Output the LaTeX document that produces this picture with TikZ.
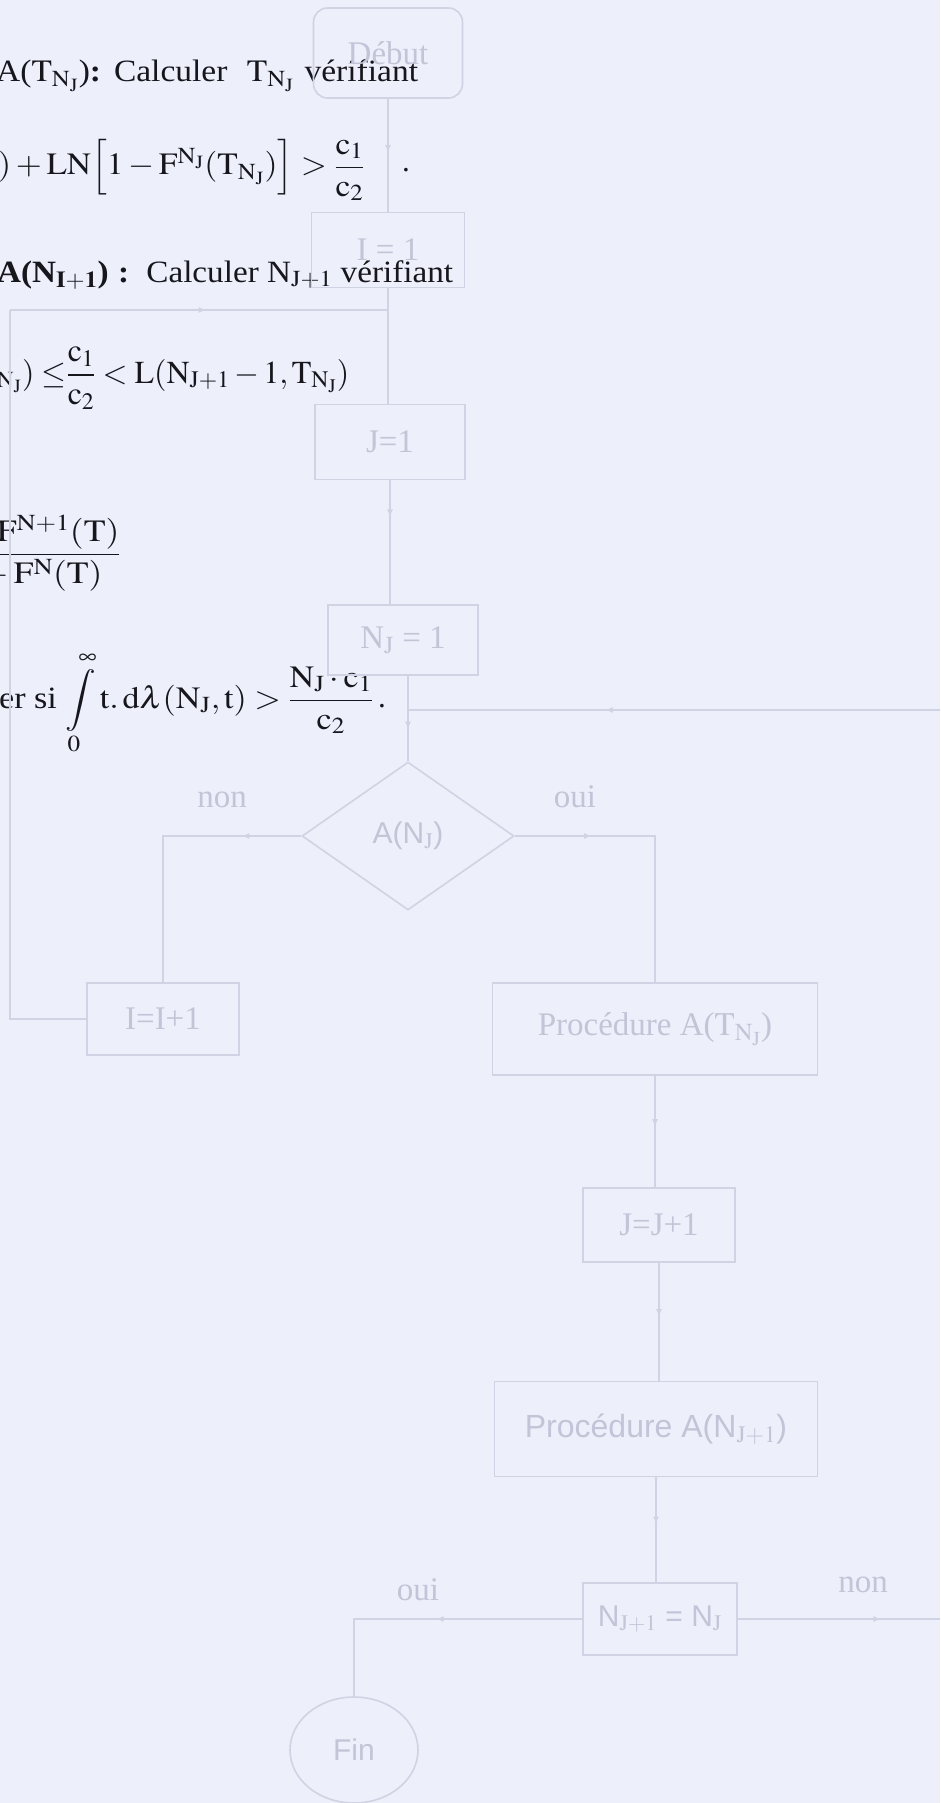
\documentclass[tikz,border=0pt]{standalone}
\usepackage{amsmath}
\usepackage{mathptmx}
\usepackage{graphicx}
\usepackage{fontspec}
\setmainfont{Liberation Serif}
\setsansfont{Liberation Sans}
\usetikzlibrary{decorations.markings,arrows.meta,shapes.geometric}
\definecolor{bgc}{RGB}{237,239,250}
\definecolor{flowc}{RGB}{208,211,227}
\definecolor{flowt}{RGB}{194,197,215}
\definecolor{inkc}{RGB}{22,22,28}
\newcommand{\TNJ}{\mathrm{T}_{\mathrm{N}_{\mathrm{J}}}}
\newcommand{\sx}[2]{\scalebox{#1}[1]{#2}}
\tikzset{
  flow/.style={draw=flowc, line width=1.6pt},
  box/.style={flow, rectangle, inner sep=0pt, text=flowt, font=\fontsize{33}{38}\selectfont},
  sbox/.style={box, font=\sffamily\fontsize{30}{36}\selectfont},
  lab/.style={text=flowt, inner sep=0pt, font=\fontsize{33}{38}\selectfont},
  ink/.style={text=inkc, inner sep=0pt, anchor=base west, font=\fontsize{31}{36}\selectfont},
  midarr/.style={postaction={decorate,decoration={markings,mark=at position #1 with {\arrow[flowc]{Latex[length=8pt,width=6pt]}}}}}
}
\begin{document}
\begin{tikzpicture}[x=1pt,y=-1pt]
\useasboundingbox (0,0) rectangle (940,1803);
\fill[bgc] (0,0) rectangle (940,1803);
\clip (0,0) rectangle (940,1803);

% ---- formulas (cut at the left edge) ----
\node[ink] (t1) at (-4,82) {\sx{1.08}{A($\TNJ$)\textbf{:}\hspace{12pt}Calculer\hspace{18pt}$\TNJ$\hspace{2pt} vérifiant}};
\node[ink] (t2) at (-2,175) {\sx{1.08}{$)+\mathrm{LN}\Big[1-\mathrm{F}^{\mathrm{N_J}}(\TNJ)\Big]>\dfrac{\mathrm{c}_1}{\mathrm{c}_2}$}};
\node[ink] (d2) at (402,172) {.};
\node[ink] (t3) at (-3,282) {\sx{1.07}{\textbf{A(N$_{\mathbf{I+1}}$)}\hspace{9pt}\textbf{:}\hspace{16pt}Calculer N$_{\mathrm{J+1}}$ vérifiant}};
\node[ink, anchor=base east] (t4a) at (22,383) {$\TNJ$};
\node[ink, font=\fontsize{32}{36}\selectfont] (t4) at (22,383) {$)\le\!\!\dfrac{\mathrm{c}_1}{\mathrm{c}_2}<\mathrm{L}(\mathrm{N}_{\mathrm{J+1}}-1,\TNJ)$};
\node[ink, anchor=east] (t5) at (121,553) {\sx{1.15}{$\dfrac{1-\mathrm{F}^{\mathrm{N+1}}(\mathrm{T})}{1-\mathrm{F}^{\mathrm{N}}(\mathrm{T})}$}};
\node[ink] (t6) at (-1,708) {\sx{1.1}{er si $\displaystyle\int\limits_0^\infty \mathrm{t.\,d}\lambda(\mathrm{N_J},\mathrm{t})>\frac{\mathrm{N_J\cdot c_1}}{\mathrm{c_2}}$}};
\node[ink] (d6) at (378,707) {.};

% ---- flowchart nodes ----
\node[box, rounded corners=14pt, minimum width=149pt, minimum height=90pt] (deb) at (388,53) {Début};
\node[box, minimum width=153pt, minimum height=75pt] (i1) at (388,250) {I = 1};
\node[box, minimum width=150pt, minimum height=75pt] (j1) at (390,442) {J=1};
\node[box, minimum width=150pt, minimum height=70pt] (nj) at (403,640) {N$_{\mathrm{J}}$ = 1};
\node[sbox, diamond, minimum width=212pt, minimum height=148pt] (dia) at (408,836) {A(N$_{\mathrm{J}}$)};
\node[box, minimum width=152pt, minimum height=72pt] (ii) at (163,1019) {I=I+1};
\node[box, minimum width=325pt, minimum height=92pt] (pa) at (655,1029) {Procédure A($\TNJ$)};
\node[box, minimum width=152pt, minimum height=74pt] (jj) at (659,1225) {J=J+1};
\node[sbox, minimum width=323pt, minimum height=95pt, font=\sffamily\fontsize{32}{38}\selectfont] (pn) at (656,1429) {Procédure A(N$_{\mathrm{J+1}}$)};
\node[sbox, minimum width=154pt, minimum height=72pt] (eq) at (660,1619) {N$_{\mathrm{J+1}}$ = N$_{\mathrm{J}}$};
\node[sbox, ellipse, minimum width=128pt, minimum height=106pt] (fin) at (354,1750) {Fin};

% ---- labels ----
\node[lab] (lnon1) at (222,800) {non};
\node[lab] (loui1) at (575,797) {oui};
\node[lab] (loui2) at (418,1590) {oui};
\node[lab] (lnon2) at (863,1585) {non};

% ---- helper coordinates ----
\coordinate (lt) at (10,310);
\coordinate (jn) at (i1.south |- lt);
\coordinate (re) at (940,710);
\coordinate (rj) at (dia.north |- re);
\coordinate (ee) at (940,1619);

% ---- connectors ----
\draw[flow, midarr=0.48] (deb.south) -- (deb.south |- i1.north);
\draw[flow] (i1.south) -- (i1.south |- j1.north);
\draw[flow, midarr=0.30] (j1.south) -- (j1.south |- nj.north);
\draw[flow, midarr=0.63] (dia.north |- nj.south) -- (dia.north);
\draw[flow, midarr=0.63] (re) -- (rj);
\draw[flow, midarr=0.21] (dia.west) -| (ii.north);
\draw[flow] (ii.west) -| (lt);
\draw[flow, midarr=0.52] (lt) -- (jn);
\draw[flow, midarr=0.27] (dia.east) -| (pa.north);
\draw[flow, midarr=0.46] (pa.south) -- (pa.south |- jj.north);
\draw[flow, midarr=0.46] (jj.south) -- (jj.south |- pn.north);
\draw[flow, midarr=0.45] (pn.south) -- (pn.south |- eq.north);
\draw[flow, midarr=0.48] (eq.west) -| (fin.north);
\draw[flow, midarr=0.71] (eq.east) -- (ee);
\end{tikzpicture}
\end{document}
